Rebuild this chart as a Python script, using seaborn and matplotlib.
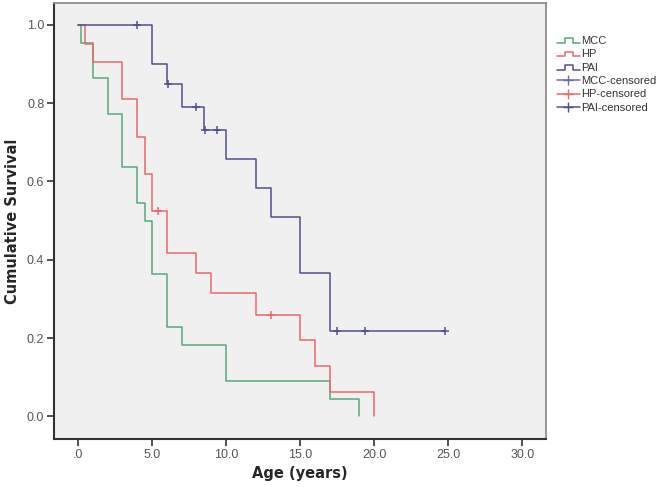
import numpy as np
import matplotlib
matplotlib.use('Agg')
import matplotlib.pyplot as plt
from matplotlib.lines import Line2D
from matplotlib.legend_handler import HandlerBase
import seaborn as sns

# Kaplan-Meier steps (time of drop, survival after drop)
mcc_time = [0, 0.2, 1, 2, 3, 4, 4.5, 5, 6, 7, 10, 17, 19]
mcc_surv = [1.0, 0.955, 0.864, 0.773, 0.636, 0.545, 0.5, 0.364, 0.227, 0.182, 0.091, 0.045, 0.0]
mcc_cens = []

hp_time = [0, 0.5, 1, 3, 4, 4.5, 5, 6, 8, 9, 12, 15, 16, 17, 20]
hp_surv = [1.0, 0.952, 0.905, 0.81, 0.714, 0.619, 0.524, 0.418, 0.365, 0.314, 0.258, 0.194, 0.128, 0.062, 0.0]
hp_cens = [5.4, 13.0]

pai_time = [0, 5, 6, 7, 8.5, 10, 12, 13, 15, 17]
pai_surv = [1.0, 0.9, 0.848, 0.791, 0.731, 0.657, 0.584, 0.51, 0.365, 0.217]
pai_cens = [4.0, 6.05, 8.0, 8.55, 9.4, 17.5, 19.4, 24.8]

groups = ['MCC', 'HP', 'PAI']
colors = {'MCC': '#55a97a', 'HP': '#e8686c', 'PAI': '#4f4f8f'}
cens_colors = {'MCC': '#6a6ab0', 'HP': '#e8686c', 'PAI': '#4f4f8f'}

x_ticks = [0, 5, 10, 15, 20, 25, 30]
x_ticklabels = ['.0', '5.0', '10.0', '15.0', '20.0', '25.0', '30.0']
y_ticks = [0, 0.2, 0.4, 0.6, 0.8, 1.0]
y_ticklabels = ['0.0', '0.2', '0.4', '0.6', '0.8', '1.0']

data = {
    'MCC': (mcc_time, mcc_surv, mcc_cens),
    'HP': (hp_time, hp_surv, hp_cens),
    'PAI': (pai_time, pai_surv, pai_cens),
}


def surv_at(times, surv, t):
    idx = np.searchsorted(times, t, side='right') - 1
    return np.asarray(surv)[idx]


class StepHandler(HandlerBase):
    def create_artists(self, legend, orig_handle, xdescent, ydescent,
                       width, height, fontsize, trans):
        x0 = -xdescent
        xs = [x0, x0 + width * 0.35, x0 + width * 0.35, x0 + width * 0.7, x0 + width * 0.7, x0 + width]
        lo = -ydescent + height * 0.15
        hi = -ydescent + height * 0.75
        ys = [lo, lo, hi, hi, lo, lo]
        line = Line2D(xs, ys, color=orig_handle.get_color(), lw=1.1, transform=trans)
        return [line]


sns.set_style('white', {'axes.facecolor': '#f0f0f0'})
plt.rcParams['font.family'] = ['Liberation Sans', 'DejaVu Sans']

fig = plt.figure(figsize=(6.62, 4.87), dpi=100)
ax = fig.add_axes([0.0816, 0.0986, 0.7432, 0.8952])

for g in groups:
    t, s, c = data[g]
    t = list(t)
    s = list(s)
    # extend last level to last censored time
    if c and max(c) > t[-1]:
        t.append(max(c))
        s.append(s[-1])
    sns.lineplot(x=t, y=s, drawstyle='steps-post', color=colors[g], lw=1.1,
                 sort=False, estimator=None, ax=ax)
    if c:
        cy = surv_at(data[g][0], data[g][1], c)
        sns.scatterplot(x=c, y=cy, marker='+', s=40, color=cens_colors[g],
                        linewidth=1.1, ax=ax, zorder=3)

ax.set_xlim(-1.62, 31.6)
ax.set_ylim(-0.058, 1.056)
ax.set_xticks(x_ticks)
ax.set_xticklabels(x_ticklabels)
ax.set_yticks(y_ticks)
ax.set_yticklabels(y_ticklabels)
ax.tick_params(axis='both', direction='out', length=5, width=1.2, color='#333333',
               labelsize=9, labelcolor='#555555', pad=2,
               bottom=True, left=True)

for side in ['left', 'bottom']:
    ax.spines[side].set_color('#333333')
    ax.spines[side].set_linewidth(1.5)
for side in ['top', 'right']:
    ax.spines[side].set_color('#8c8c8c')
    ax.spines[side].set_linewidth(1.3)

ax.set_xlabel('Age (years)', fontsize=10.5, fontweight='bold', family='DejaVu Sans', labelpad=4)
ax.set_ylabel('Cumulative Survival', fontsize=10.5, fontweight='bold', family='DejaVu Sans', labelpad=5)

handles = [Line2D([], [], color=colors[g]) for g in groups]
handles += [Line2D([], [], color=cens_colors[g], marker='+', markersize=7, lw=1.1) for g in groups]
labels = groups + [g + '-censored' for g in groups]
handler_map = {h: StepHandler() for h in handles[:3]}
leg = fig.legend(handles, labels, handler_map=handler_map, loc='upper left',
                 bbox_to_anchor=(0.834, 0.935), frameon=False, fontsize=8,
                 handlelength=2.1, handletextpad=0.15, labelspacing=0.3,
                 borderaxespad=0)
for txt in leg.get_texts():
    txt.set_color('#333333')

fig.savefig('out.png', dpi=100, facecolor='white')
